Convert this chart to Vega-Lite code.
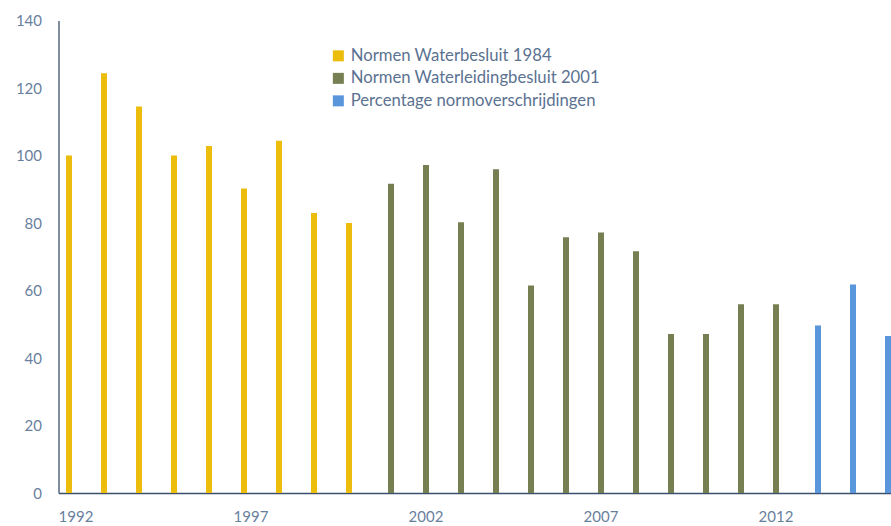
{
  "$schema": "https://vega.github.io/schema/vega-lite/v6.json",
  "width": 832.5,
  "height": 472.5,
  "autosize": {"type": "none"},
  "padding": {"left": 58.5, "top": 20.5, "right": 0, "bottom": 33},
  "background": "white",
  "config": {
    "view": {"stroke": null},
    "font": "Lato"
  },
  "data": {
    "values": [
      {"year": 1992, "value": 100, "series": "Normen Waterbesluit 1984"},
      {"year": 1993, "value": 124.4, "series": "Normen Waterbesluit 1984"},
      {"year": 1994, "value": 114.5, "series": "Normen Waterbesluit 1984"},
      {"year": 1995, "value": 100, "series": "Normen Waterbesluit 1984"},
      {"year": 1996, "value": 102.8, "series": "Normen Waterbesluit 1984"},
      {"year": 1997, "value": 90.2, "series": "Normen Waterbesluit 1984"},
      {"year": 1998, "value": 104.4, "series": "Normen Waterbesluit 1984"},
      {"year": 1999, "value": 83, "series": "Normen Waterbesluit 1984"},
      {"year": 2000, "value": 80, "series": "Normen Waterbesluit 1984"},
      {"year": 2001, "value": 91.6, "series": "Normen Waterleidingbesluit 2001"},
      {"year": 2002, "value": 97.2, "series": "Normen Waterleidingbesluit 2001"},
      {"year": 2003, "value": 80.2, "series": "Normen Waterleidingbesluit 2001"},
      {"year": 2004, "value": 95.9, "series": "Normen Waterleidingbesluit 2001"},
      {"year": 2005, "value": 61.5, "series": "Normen Waterleidingbesluit 2001"},
      {"year": 2006, "value": 75.8, "series": "Normen Waterleidingbesluit 2001"},
      {"year": 2007, "value": 77.2, "series": "Normen Waterleidingbesluit 2001"},
      {"year": 2008, "value": 71.6, "series": "Normen Waterleidingbesluit 2001"},
      {"year": 2009, "value": 47.1, "series": "Normen Waterleidingbesluit 2001"},
      {"year": 2010, "value": 47.1, "series": "Normen Waterleidingbesluit 2001"},
      {"year": 2011, "value": 55.9, "series": "Normen Waterleidingbesluit 2001"},
      {"year": 2012, "value": 55.9, "series": "Normen Waterleidingbesluit 2001"},
      {"year": 2013, "value": 49.6, "series": "Percentage normoverschrijdingen"},
      {"year": 2014, "value": 61.8, "series": "Percentage normoverschrijdingen"},
      {"year": 2015, "value": 46.5, "series": "Percentage normoverschrijdingen"}
    ]
  },
  "mark": {"type": "bar"},
  "encoding": {
    "x": {
      "field": "year",
      "type": "ordinal",
      "scale": {"range": [0, 840], "paddingInner": 0.4, "paddingOuter": 0.2},
      "axis": {
        "title": null,
        "values": [1992, 1997, 2002, 2007, 2012],
        "labelAngle": 0,
        "ticks": false,
        "labelPadding": 16,
        "labelFontSize": 15,
        "labelColor": "#6A7F9E",
        "domainColor": "#3C506E",
        "domainWidth": 1.3,
        "labelFont": "Lato"
      }
    },
    "xOffset": {
      "field": "series",
      "type": "nominal",
      "scale": {
        "domain": ["Normen Waterbesluit 1984", "Normen Waterleidingbesluit 2001", "Percentage normoverschrijdingen"],
        "paddingInner": 0.143,
        "paddingOuter": 0.0715
      }
    },
    "y": {
      "field": "value",
      "type": "quantitative",
      "scale": {"domain": [0, 140], "nice": false},
      "axis": {
        "title": null,
        "values": [0, 20, 40, 60, 80, 100, 120, 140],
        "grid": false,
        "ticks": false,
        "labelPadding": 17,
        "labelFontSize": 15,
        "labelColor": "#6A7F9E",
        "domainColor": "#3C506E",
        "domainWidth": 1.3,
        "labelFont": "Lato"
      }
    },
    "color": {
      "field": "series",
      "type": "nominal",
      "scale": {
        "domain": ["Normen Waterbesluit 1984", "Normen Waterleidingbesluit 2001", "Percentage normoverschrijdingen"],
        "range": ["#ECBD0C", "#757F52", "#5A96DC"]
      },
      "legend": {
        "title": null,
        "orient": "none",
        "legendX": 271.5,
        "legendY": 27,
        "symbolType": "square",
        "symbolSize": 121,
        "symbolStrokeWidth": 0,
        "labelFontSize": 16.7,
        "labelColor": "#5B7291",
        "labelFont": "Lato",
        "labelOffset": 4,
        "rowPadding": 4.5,
        "labelLimit": 400
      }
    }
  }
}
